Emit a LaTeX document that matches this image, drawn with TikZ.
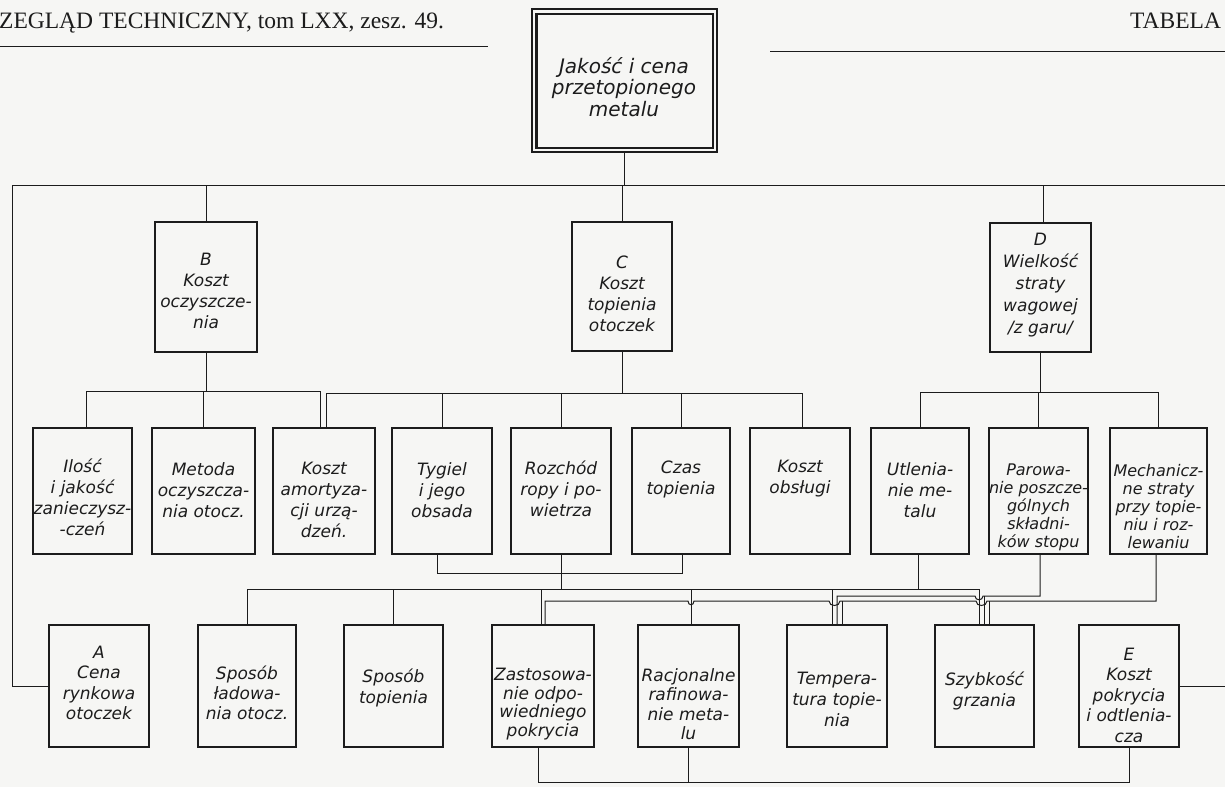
\documentclass[tikz,border=0pt]{standalone}
\usepackage{fontspec}
\setmainfont{Liberation Serif}
\newfontfamily\tech{DejaVu Sans}
\definecolor{ink}{RGB}{28,28,28}
\definecolor{paper}{RGB}{246,246,244}
\begin{document}
\begin{tikzpicture}[x=1pt,y=-1pt,
  conn/.style={draw=ink,line width=1pt},
  box/.style={draw=ink,line width=1.3pt,rectangle,inner sep=0pt},
  boldbox/.style={box,line width=2.4pt},
  lbl/.style={font=\tech\itshape\fontsize{17}{21}\selectfont,align=center,text=ink,inner sep=0pt},
  lblsmall/.style={font=\tech\itshape\fontsize{16}{18}\selectfont,align=center,text=ink,inner sep=0pt},
  lbltop/.style={font=\tech\itshape\fontsize{20}{21.5}\selectfont,align=center,text=ink,inner sep=0pt},
  hdr/.style={font=\fontsize{23.5}{26}\selectfont,anchor=base west,inner sep=0pt,text=ink},
]
\fill[paper] (0,0) rectangle (1225,787);
\useasboundingbox (0,0) rectangle (1225,787);

% header
\node[hdr] (hleft) at (-1,28) {ZEGLĄD TECHNICZNY, tom LXX, zesz. 49.};
\node[hdr] (hright) at (1130,28) {TABELA};
\draw[ink,line width=1pt] (0,46) -- (488,46);
\draw[ink,line width=1pt] (770,51) -- (1225,51);

% top box (thin outer frame, bold inner frame)
\node[box,line width=1.3pt,minimum width=185pt,minimum height=143pt] (top) at (624.5,80.5) {};
\draw[ink,line width=2.3pt] ([shift={(5,5.5)}]top.north west) rectangle ([shift={(-4.5,-5)}]top.south east);
\node[lbltop] (ttop) at (624,87) {Jakość i cena\\przetopionego\\metalu};

% row 1
\node[box,minimum width=102pt,minimum height=130pt] (B) at (206,287) {};
\node[box,minimum width=100pt,minimum height=129pt] (C) at (622,286.5) {};
\node[box,minimum width=101pt,minimum height=129pt] (D) at (1040.5,287.5) {};
\node[lbl] (tB) at (206,291) {B\\Koszt\\oczyszcze-\\nia};
\node[lbl] (tC) at (622,294) {C\\Koszt\\topienia\\otoczek};
\node[lbl,font=\tech\itshape\fontsize{17}{22}\selectfont] (tD) at (1040.5,285) {D\\Wielkość\\straty\\wagowej\\/z garu/};

% row 2
\node[box,minimum width=99pt,minimum height=126pt] (i1) at (82.5,491) {};
\node[boldbox,minimum width=103pt,minimum height=126pt] (i2) at (203.5,491) {};
\node[box,minimum width=102pt,minimum height=126pt] (i3) at (324,491) {};
\node[box,minimum width=100pt,minimum height=126pt] (i4) at (442,491) {};
\node[box,minimum width=100pt,minimum height=126pt] (i5) at (561,491) {};
\node[box,minimum width=98pt,minimum height=126pt] (i6) at (681,491) {};
\node[box,minimum width=100pt,minimum height=126pt] (i7) at (800,491) {};
\node[box,minimum width=98pt,minimum height=126pt] (i8) at (920,491) {};
\node[box,minimum width=99pt,minimum height=126pt] (i9) at (1038.5,491) {};
\node[box,minimum width=97pt,minimum height=126pt] (i10) at (1158.5,491) {};
\node[lbl] (t1) at (82.5,497) {Ilość\\i jakość\\zanieczysz-\\-czeń};
\node[lbl] (t2) at (203.5,490) {Metoda\\oczyszcza-\\nia otocz.};
\node[lbl] (t3) at (324,500) {Koszt\\amortyza-\\cji urzą-\\dzeń.};
\node[lbl] (t4) at (442,490) {Tygiel\\i jego\\obsada};
\node[lbl] (t5) at (561,489) {Rozchód\\ropy i po-\\wietrza};
\node[lbl] (t6) at (681,479) {Czas\\topienia};
\node[lbl] (t7) at (800,479) {Koszt\\obsługi};
\node[lbl] (t8) at (920,490) {Utlenia-\\nie me-\\talu};
\node[lblsmall] (t9) at (1038.5,507) {Parowa-\\nie poszcze-\\gólnych\\składni-\\ków stopu};
\node[lblsmall] (t10) at (1158.5,507) {Mechanicz-\\ne straty\\przy topie-\\niu i roz-\\lewaniu};

% row 3
\node[box,minimum width=100pt,minimum height=122pt] (A) at (99,686) {};
\node[boldbox,minimum width=98pt,minimum height=122pt] (f2) at (247,686) {};
\node[boldbox,minimum width=99pt,minimum height=122pt] (f3) at (393.5,686) {};
\node[boldbox,minimum width=102pt,minimum height=122pt] (f4) at (543,686) {};
\node[boldbox,minimum width=101pt,minimum height=122pt] (f5) at (688.5,686) {};
\node[boldbox,minimum width=100pt,minimum height=122pt] (f6) at (837,686) {};
\node[boldbox,minimum width=99pt,minimum height=122pt] (f7) at (984.5,686) {};
\node[box,minimum width=100pt,minimum height=122pt] (E) at (1129,686) {};
\node[lbl,font=\tech\itshape\fontsize{17}{20.5}\selectfont] (tA) at (99,683) {A\\Cena\\rynkowa\\otoczek};
\node[lbl,font=\tech\itshape\fontsize{17}{20}\selectfont] (tf2) at (247,693) {Sposób\\ładowa-\\nia otocz.};
\node[lbl] (tf3) at (393.5,688) {Sposób\\topienia};
\node[lbl,font=\tech\itshape\fontsize{17}{18.5}\selectfont] (tf4) at (543,704) {Zastosowa-\\nie odpo-\\wiedniego\\pokrycia};
\node[lbl,font=\tech\itshape\fontsize{17}{19.5}\selectfont] (tf5) at (688.5,704) {Racjonalne\\rafinowa-\\nie meta-\\lu};
\node[lbl] (tf6) at (837,699) {Tempera-\\tura topie-\\nia};
\node[lbl] (tf7) at (984.5,691) {Szybkość\\grzania};
\node[lbl,font=\tech\itshape\fontsize{17}{20.5}\selectfont] (tE) at (1129,695) {E\\Koszt\\pokrycia\\i odtlenia-\\cza};

% main distribution line
\coordinate (mainL) at (12,185);
\coordinate (mainR) at (1225,185);
\draw[conn] (mainL) -- (mainR);
\draw[conn] (top.south) -- (top.south |- mainL);
\draw[conn] (B.north) -- (B.north |- mainL);
\draw[conn] (C.north) -- (C.north |- mainL);
\draw[conn] ([xshift=2.5pt]D.north) -- ([xshift=2.5pt]D.north |- mainL);
\draw[conn] (mainL) -- (mainL |- A.west) -- (A.west);
\coordinate (rightE) at (1225,690);
\draw[conn] (E.east) -- (E.east -| rightE);

% row 1 -> row 2
\coordinate (yB) at (0,391);
\coordinate (yC) at (0,393);
\coordinate (yD) at (0,392);
\draw[conn] (B.south) -- (B.south |- yB);
\draw[conn] ([xshift=3.5pt]i1.north) -- ([xshift=3.5pt]i1.north |- yB) -- ([xshift=-4pt]i3.north |- yB) -- ([xshift=-4pt]i3.north);
\draw[conn] (i2.north) -- (i2.north |- yB);
\draw[conn] (C.south) -- (C.south |- yC);
\draw[conn] ([xshift=2pt]i3.north) -- ([xshift=2pt]i3.north |- yC) -- ([xshift=2pt]i7.north |- yC) -- ([xshift=2pt]i7.north);
\draw[conn] (i4.north) -- (i4.north |- yC);
\draw[conn] (i5.north) -- (i5.north |- yC);
\draw[conn] (i6.north) -- (i6.north |- yC);
\draw[conn] (D.south) -- (D.south |- yD);
\draw[conn] (i8.north) -- (i8.north |- yD) -- (i10.north |- yD) -- (i10.north);
\draw[conn] (i9.north) -- (i9.north |- yD);

% row 2 -> row 3
\coordinate (y0) at (0,573);
\coordinate (y1) at (0,589);
\coordinate (y2) at (0,596);
\coordinate (y3) at (0,601);
\draw[conn] ([xshift=-5pt]i4.south) -- ([xshift=-5pt]i4.south |- y0) -- ([xshift=1pt]i6.south |- y0) -- ([xshift=1pt]i6.south);
\draw[conn] (i5.south) -- (i5.south |- y1);
\draw[conn] ([xshift=-2pt]i8.south) -- ([xshift=-2pt]i8.south |- y1);
% bus 1
\draw[conn] (f2.north) -- (f2.north |- y1) -- ([xshift=-5.5pt]f7.north |- y1) -- ([xshift=-5.5pt]f7.north);
\draw[conn] (f3.north) -- (f3.north |- y1);
\draw[conn] ([xshift=-2pt]f4.north) -- ([xshift=-2pt]f4.north |- y1);
\draw[conn] ([xshift=2.5pt]f5.north) -- ([xshift=2.5pt]f5.north |- y1);
\draw[conn] ([xshift=-5pt]f6.north) -- ([xshift=-5pt]f6.north |- y1);
% bus 2
\draw[conn] ([xshift=1.5pt]i9.south) -- ([xshift=1.5pt]i9.south |- y2) -- (983,596)
  .. controls (983,601) and (975,601) .. (975,596) -- (f6.north |- y2) -- (f6.north);
\draw[conn] (f7.north |- y2) -- (f7.north);
% bus 3
\draw[conn] ([xshift=-2.5pt]i10.south) -- ([xshift=-2.5pt]i10.south |- y3) -- (987,601)
  .. controls (987,607) and (976,607) .. (976,601) -- (840,601)
  .. controls (840,607) and (829,607) .. (829,601) -- (694,601)
  .. controls (694,606) and (688,606) .. (688,601) -- ([xshift=2pt]f4.north |- y3) -- ([xshift=2pt]f4.north);
\draw[conn] ([xshift=4.5pt]f7.north |- y3) -- ([xshift=4.5pt]f7.north);
\draw[conn] ([xshift=5pt]f6.north |- y3) -- ([xshift=5pt]f6.north);

% bottom line
\coordinate (yb) at (0,782);
\draw[conn] ([xshift=-5pt]f4.south) -- ([xshift=-5pt]f4.south |- yb) -- (E.south |- yb) -- (E.south);
\draw[conn] (f5.south) -- (f5.south |- yb);
\end{tikzpicture}
\end{document}
